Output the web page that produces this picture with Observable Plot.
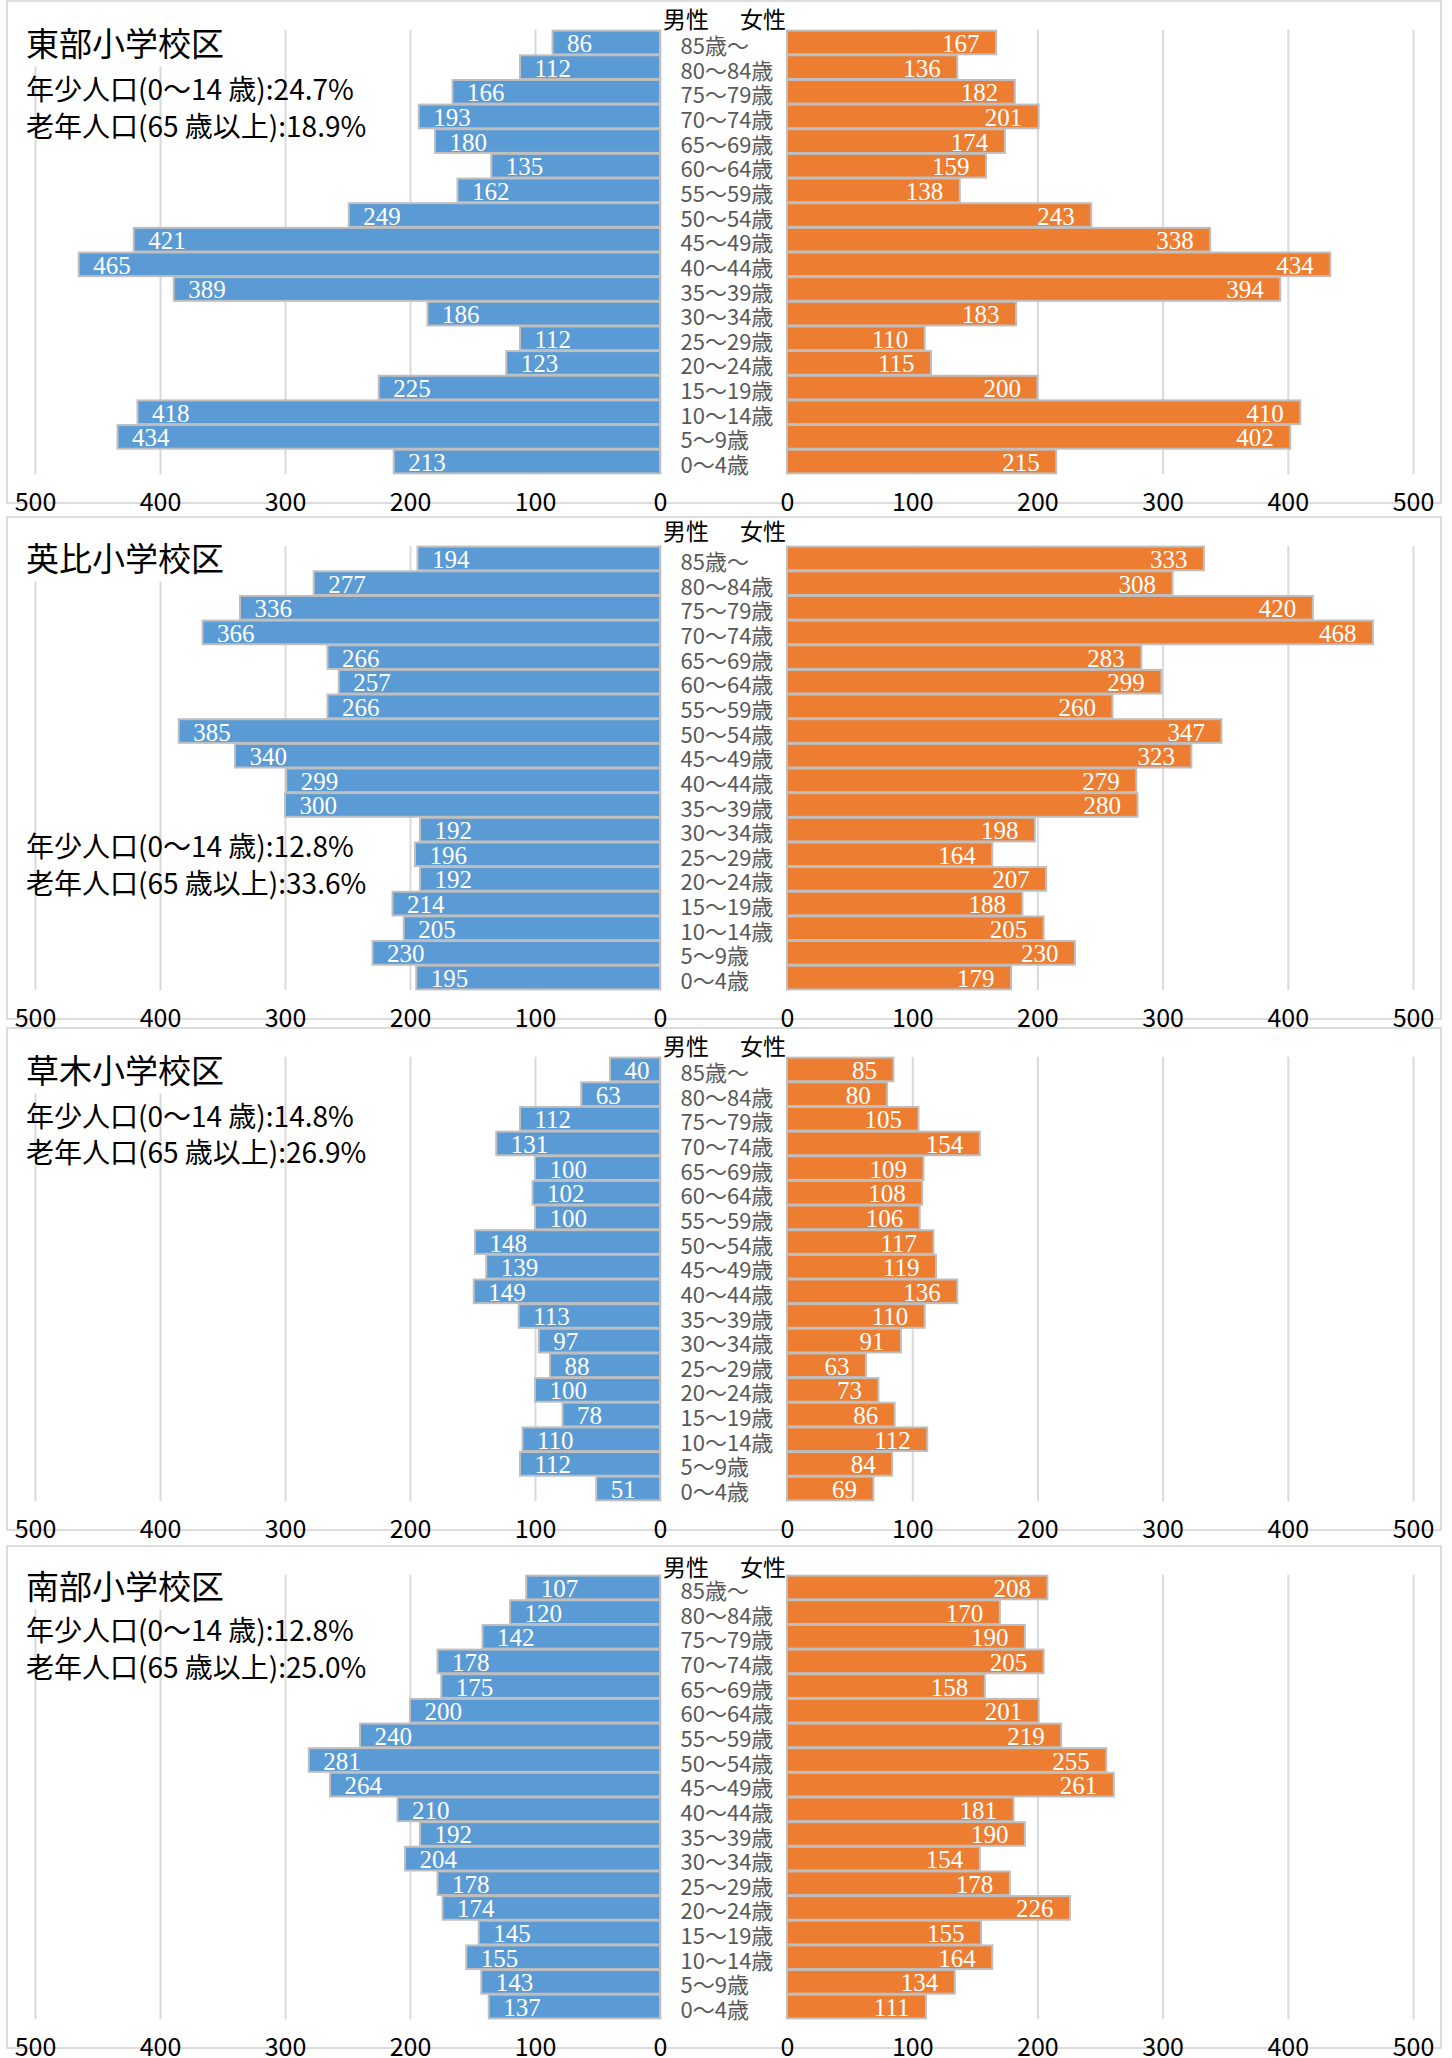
<!DOCTYPE html>
<html>
<head>
<meta charset="utf-8">
<script src="https://cdn.jsdelivr.net/npm/d3@7"></script>
<script src="https://cdn.jsdelivr.net/npm/@observablehq/plot@0.6"></script>
<style>
  html, body { margin: 0; padding: 0; background: #fff; }
  #page { position: relative; width: 1452px; height: 2058px; overflow: hidden; background: #fff;
          font-family: "Noto Sans CJK JP", "Noto Sans", sans-serif; }
  .panel { position: absolute; border: 2px solid #dcdcdc; box-sizing: border-box; }
  .txt { position: absolute; line-height: 1; white-space: nowrap; transform: translateY(-50%); color: #000; }
  .title { background: #fff; padding: 8px 10px 8px 0; font-size: 33px; }
  .stat { font-size: 28px; }
  .hdr { font-size: 23px; transform: translate(-50%, -50%); }
  svg { overflow: visible; }
</style>
</head>
<body>
<div id="page"></div>
<script>
// ---- data ----
const ages = ["85歳～","80～84歳","75～79歳","70～74歳","65～69歳","60～64歳","55～59歳","50～54歳","45～49歳","40～44歳","35～39歳","30～34歳","25～29歳","20～24歳","15～19歳","10～14歳","5～9歳","0～4歳"];
const schools = ["東部小学校区","英比小学校区","草木小学校区","南部小学校区"];
const youthShare = ["24.7%","12.8%","14.8%","12.8%"];
const elderShare = ["18.9%","33.6%","26.9%","25.0%"];
const xTicks = [0,100,200,300,400,500];

const maleTobu   = [86,112,166,193,180,135,162,249,421,465,389,186,112,123,225,418,434,213];
const femaleTobu = [167,136,182,201,174,159,138,243,338,434,394,183,110,115,200,410,402,215];
const maleEibi   = [194,277,336,366,266,257,266,385,340,299,300,192,196,192,214,205,230,195];
const femaleEibi = [333,308,420,468,283,299,260,347,323,279,280,198,164,207,188,205,230,179];
const maleKusaki   = [40,63,112,131,100,102,100,148,139,149,113,97,88,100,78,110,112,51];
const femaleKusaki = [85,80,105,154,109,108,106,117,119,136,110,91,63,73,86,112,84,69];
const maleNanbu   = [107,120,142,178,175,200,240,281,264,210,192,204,178,174,145,155,143,137];
const femaleNanbu = [208,170,190,205,158,201,219,255,261,181,190,154,178,226,155,164,134,111];

const males = [maleTobu, maleEibi, maleKusaki, maleNanbu];
const females = [femaleTobu, femaleEibi, femaleKusaki, femaleNanbu];

// ---- layout ----
const page = document.getElementById("page");
const panelTops = [1, 517, 1028, 1546];
const titleOff = [41, 40, 41, 39];
const statOff = [[87,124],[328,365],[87,123],[83,120]];
const hdrOff = [17, 13, 17, 20];
const SVG_H = 520, BAR_TOP = 28.65, BAR_BOT = 473.35;
const JP = "Noto Sans CJK JP";
const VAL_FONT = "Liberation Serif";

function place(el, left, top) {
  el.style.position = "absolute";
  el.style.left = left + "px";
  el.style.top = top + "px";
  page.appendChild(el);
}
function addText(cls, text, left, top) {
  const d = document.createElement("div");
  d.className = "txt " + cls;
  d.textContent = text;
  d.style.left = left + "px";
  d.style.top = top + "px";
  page.appendChild(d);
  return d;
}

schools.forEach((school, i) => {
  const T = panelTops[i];
  const border = document.createElement("div");
  border.className = "panel";
  border.style.left = "6px"; border.style.top = (T - 1) + "px";
  border.style.width = "1436px"; border.style.height = "504px";
  page.appendChild(border);

  const mData = ages.map((a, j) => ({age: a, v: males[i][j]}));
  const fData = ages.map((a, j) => ({age: a, v: females[i][j]}));
  const common = {
    height: SVG_H, marginTop: BAR_TOP, marginBottom: SVG_H - BAR_BOT,
    style: {fontFamily: JP, fontSize: "22px", background: "transparent", overflow: "visible"}
  };
  const yScale = {domain: ages, padding: 0.04, round: false};

  const male = Plot.plot({
    ...common,
    width: 700, marginLeft: 35, marginRight: 40,
    x: {domain: [0, 500], reverse: true, label: null},
    y: {...yScale, axis: null, label: null},
    marks: [
      Plot.gridX(xTicks, {stroke: "#d9d9d9", strokeOpacity: 1, strokeWidth: 2}),
      Plot.barX(mData, {x: "v", y: "age", fill: "#5b9bd5", stroke: "#bfbfbf", strokeWidth: 2}),
      Plot.text(mData, {x: "v", y: "age", text: d => String(d.v), textAnchor: "start", dx: 14, dy: 1,
        fill: "white", fontFamily: VAL_FONT, fontSize: 25}),
      Plot.axisX(xTicks, {anchor: "bottom", tickSize: 0, tickPadding: 18, fontSize: 25, fill: "#000",
        fontFamily: JP, label: null, tickFormat: d => String(d)})
    ]
  });
  place(male, 0, T);

  const female = Plot.plot({
    ...common,
    width: 792, marginLeft: 127, marginRight: 39,
    x: {domain: [0, 500], label: null},
    y: {...yScale, label: null},
    marks: [
      Plot.gridX(xTicks, {stroke: "#d9d9d9", strokeOpacity: 1, strokeWidth: 2}),
      Plot.barX(fData, {x: "v", y: "age", fill: "#ed7d31", stroke: "#bfbfbf", strokeWidth: 2}),
      Plot.text(fData, {x: "v", y: "age", text: d => String(d.v), textAnchor: "end", dx: -17, dy: 1,
        fill: "white", fontFamily: VAL_FONT, fontSize: 25}),
      Plot.axisX(xTicks, {anchor: "bottom", tickSize: 0, tickPadding: 18, fontSize: 25, fill: "#000",
        fontFamily: JP, label: null, tickFormat: d => String(d)}),
      Plot.axisY({anchor: "left", tickSize: 0, tickPadding: 0, textAnchor: "start", dx: -107, dy: 4,
        fontSize: 22, fill: "#595959", fontFamily: JP, label: null})
    ]
  });
  place(female, 660, T);

  addText("title", school, 26, T + titleOff[i]);
  addText("stat", "年少人口(0～14 歳):" + youthShare[i], 26, T + statOff[i][0]);
  addText("stat", "老年人口(65 歳以上):" + elderShare[i], 26, T + statOff[i][1]);
  addText("hdr", "男性", 686, T + hdrOff[i]);
  addText("hdr", "女性", 763, T + hdrOff[i]);
});
</script>
</body>
</html>
